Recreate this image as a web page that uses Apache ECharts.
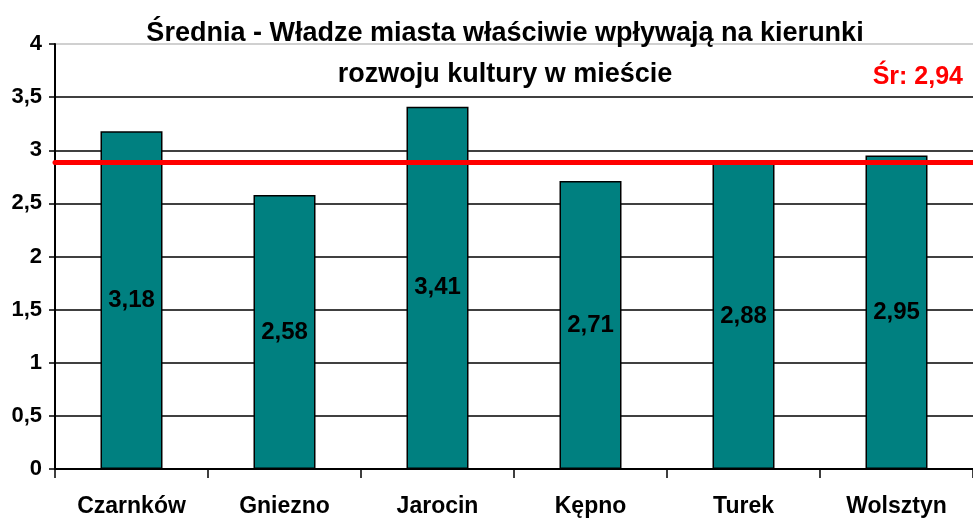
<!DOCTYPE html>
<html>
<head>
<meta charset="utf-8">
<script src="https://cdn.jsdelivr.net/npm/echarts@6/dist/echarts.min.js"></script>
<style>
  html, body { margin: 0; padding: 0; background: #fff; }
  #chart { width: 973px; height: 522px; }
</style>
</head>
<body>
<div id="chart"></div>
<script>
// dane
const cities = ["Czarnków", "Gniezno", "Jarocin", "Kępno", "Turek", "Wolsztyn"]
const means = [3.18, 2.58, 3.41, 2.71, 2.88, 2.95]
const meanValue = 2.94      // wartość w podpisie
const meanLineLevel = 2.89  // gdzie linia jest faktycznie narysowana
const yTicks = ["0", "0,5", "1", "1,5", "2", "2,5", "3", "3,5", "4"]

const titleText = "Średnia - Władze miasta właściwie wpływają na kierunki\nrozwoju kultury w mieście"
const font = "Liberation Sans, Arial, sans-serif"

const toComma = (v) => String(v).replace(".", ",")

const chart = echarts.init(document.getElementById("chart"))

// kolory linii siatki – górna jasnoszara
const splitColors = yTicks.map((t, i) => (i === yTicks.length - 1 ? "#c0c0c0" : "#000"))

const option = {
  backgroundColor: "#fff",
  animation: false,
  title: [
    {
      text: titleText,
      left: 500,
      top: 8,
      textAlign: "center",
      textStyle: {
        fontFamily: font,
        fontWeight: "bold",
        fontSize: 27,
        lineHeight: 41,
        color: "#000",
      },
    },
    {
      text: "Śr: " + toComma(meanValue),
      right: 5,
      top: 60,
      textStyle: {
        fontFamily: font,
        fontWeight: "bold",
        fontSize: 25,
        color: "#ff0000",
      },
    },
  ],
  grid: {
    left: 55,
    right: -3,
    top: 44,
    bottom: 53,
    containLabel: false,
  },
  xAxis: {
    type: "category",
    data: cities,
    axisLine: { show: true, lineStyle: { color: "#000", width: 2 } },
    axisTick: { show: true, interval: 0, length: 9, lineStyle: { color: "#000", width: 1.5 } },
    axisLabel: {
      margin: 26,
      interval: 0,
      color: "#000",
      fontFamily: font,
      fontWeight: "bold",
      fontSize: 23,
    },
  },
  yAxis: {
    type: "value",
    min: 0,
    max: 4,
    interval: 0.5,
    axisLine: { show: true, lineStyle: { color: "#000", width: 2 } },
    axisTick: { show: true, length: 6, lineStyle: { color: "#000", width: 1.5 } },
    axisLabel: {
      margin: 13,
      color: "#000",
      fontFamily: font,
      fontWeight: "bold",
      fontSize: 22,
      formatter: (v) => yTicks[Math.round(v * 2)],
    },
    splitLine: { show: true, lineStyle: { color: splitColors, width: 1.5 } },
  },
  series: [
    {
      type: "bar",
      data: means,
      barWidth: 62,
      itemStyle: { color: "#008080", borderColor: "#000", borderWidth: 1.5 },
      label: {
        show: true,
        position: "inside",
        color: "#000",
        fontFamily: font,
        fontWeight: "bold",
        fontSize: 24,
        formatter: (p) => toComma(p.value),
      },
      markLine: {
        silent: true,
        symbol: "none",
        label: { show: false },
        lineStyle: { color: "#ff0000", width: 5, type: "solid", cap: "round" },
        data: [{ yAxis: meanLineLevel }],
      },
    },
  ],
}

chart.setOption(option)
</script>
</body>
</html>
